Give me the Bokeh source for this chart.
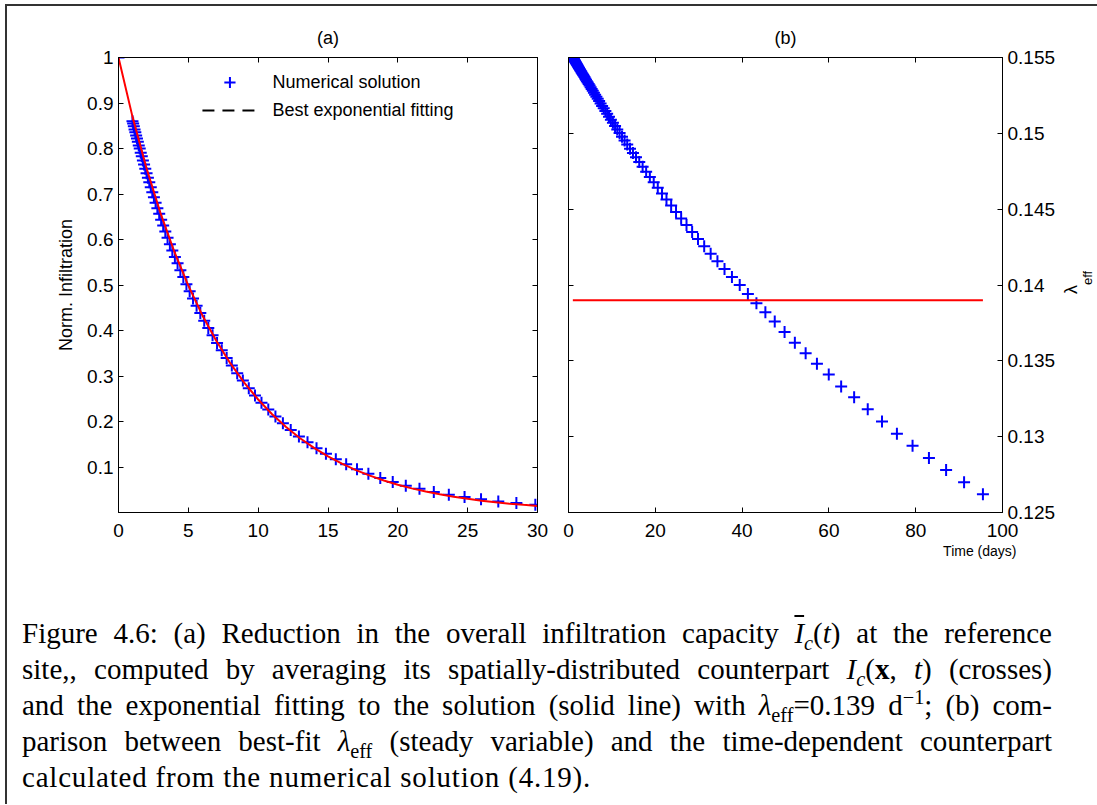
import math
from bokeh.plotting import figure
from bokeh.layouts import row, column
from bokeh.models import (LinearAxis, FixedTicker, CustomJSTickFormatter, Legend,
                          LegendItem, Title, Div, Range1d)
from bokeh.embed import file_html
from bokeh.resources import INLINE

# ---------------- data ----------------
time_days = [1.000, 1.048, 1.098, 1.150, 1.205, 1.262, 1.322, 1.385, 1.451, 1.520,
             1.592, 1.668, 1.748, 1.831, 1.918, 2.009, 2.105, 2.205, 2.310, 2.420,
             2.536, 2.656, 2.783, 2.915, 3.054, 3.200, 3.352, 3.512, 3.679, 3.854,
             4.037, 4.230, 4.431, 4.642, 4.863, 5.095, 5.337, 5.592, 5.858, 6.137,
             6.429, 6.735, 7.056, 7.392, 7.744, 8.113, 8.499, 8.904, 9.328, 9.772,
             10.237, 10.725, 11.236, 11.771, 12.331, 12.918, 13.533, 14.178, 14.853, 15.560,
             16.301, 17.077, 17.891, 18.743, 19.635, 20.570, 21.550, 22.576, 23.651, 24.777,
             25.957, 27.193, 28.488, 29.845, 31.266, 32.755, 34.315, 35.949, 37.661, 39.454,
             41.333, 43.301, 45.363, 47.523, 49.786, 52.157, 54.641, 57.243, 59.968, 62.824,
             65.815, 68.949, 72.232, 75.672, 79.275, 83.050, 87.005, 91.148, 95.488]

lambda_eff = [0.15500, 0.15498, 0.15495, 0.15493, 0.15490, 0.15487, 0.15484, 0.15481, 0.15478, 0.15475,
              0.15471, 0.15467, 0.15464, 0.15459, 0.15455, 0.15451, 0.15446, 0.15441, 0.15436, 0.15431,
              0.15425, 0.15420, 0.15413, 0.15407, 0.15400, 0.15393, 0.15386, 0.15379, 0.15371, 0.15362,
              0.15354, 0.15344, 0.15335, 0.15325, 0.15315, 0.15304, 0.15292, 0.15280, 0.15268, 0.15255,
              0.15242, 0.15228, 0.15213, 0.15197, 0.15181, 0.15165, 0.15147, 0.15129, 0.15110, 0.15090,
              0.15070, 0.15048, 0.15026, 0.15002, 0.14978, 0.14953, 0.14927, 0.14899, 0.14871, 0.14842,
              0.14811, 0.14779, 0.14747, 0.14712, 0.14677, 0.14641, 0.14603, 0.14564, 0.14524, 0.14482,
              0.14439, 0.14395, 0.14350, 0.14303, 0.14255, 0.14206, 0.14156, 0.14105, 0.14053, 0.1400,
              0.1394, 0.1388, 0.1382, 0.1376, 0.1369, 0.1362, 0.1355, 0.1348, 0.1341, 0.1333,
              0.1326, 0.1318, 0.1310, 0.1302, 0.1294, 0.1286, 0.1278, 0.1270, 0.1262]

lambda_best = 0.139

# panel (a): numerical solution (initial value at t = 0, then the same times up to 30 days)
time_start = 0.0
n_points_a = 74
infiltration_num = [1.000, 0.860, 0.855, 0.849, 0.842, 0.836, 0.829, 0.822, 0.815, 0.807, 0.800,
                    0.791, 0.783, 0.774, 0.765, 0.756, 0.746, 0.736, 0.726, 0.715, 0.704,
                    0.693, 0.681, 0.669, 0.657, 0.644, 0.631, 0.618, 0.604, 0.590, 0.576,
                    0.562, 0.548, 0.533, 0.518, 0.502, 0.487, 0.471, 0.455, 0.439, 0.422,
                    0.406, 0.390, 0.373, 0.357, 0.340, 0.324, 0.307, 0.291, 0.274, 0.258,
                    0.242, 0.227, 0.212, 0.197, 0.182, 0.168, 0.155, 0.142, 0.130, 0.118,
                    0.107, 0.096, 0.086, 0.077, 0.068, 0.060, 0.053, 0.046, 0.040, 0.035,
                    0.030, 0.025, 0.022, 0.018]

# panel (a): best exponential fitting (red curve)
time_fit = [0, 1, 2, 3, 4, 5, 6, 7, 8, 9, 10, 11, 12, 13, 14, 15, 16, 17, 18, 19, 20,
            21, 22, 23, 24, 25, 26, 27, 28, 29, 30]
infiltration_fit = [1.0, 0.8702, 0.7573, 0.6590, 0.5735, 0.4991, 0.4343, 0.3779, 0.3289, 0.2862,
                    0.2491, 0.2167, 0.1886, 0.1641, 0.1428, 0.1243, 0.1082, 0.0941, 0.0819, 0.0713,
                    0.0620, 0.0540, 0.0470, 0.0409, 0.0356, 0.0310, 0.0269, 0.0234, 0.0204, 0.0178,
                    0.0155]

xticks_a = [0, 5, 10, 15, 20, 25, 30]
yticks_a = [0.1, 0.2, 0.3, 0.4, 0.5, 0.6, 0.7, 0.8, 0.9, 1.0]
xticks_b = [0, 20, 40, 60, 80, 100]
yticks_b = [0.125, 0.13, 0.135, 0.14, 0.145, 0.15, 0.155]

legend_labels = ["Numerical solution", "Best exponential fitting"]

# ---------------- styling helpers ----------------
FONT = "Liberation Sans"
BLUE = "#0000ff"
RED = "#ff0000"
NUM_FMT = "return String(Number(tick.toFixed(4)));"
TICK_FONT = "19px"


def make_axis(ticks, labels=True, standoff=5):
    ax = LinearAxis(ticker=FixedTicker(ticks=ticks))
    ax.major_tick_in = 5
    ax.major_tick_out = 0
    ax.minor_tick_line_color = None
    ax.axis_line_color = "black"
    ax.major_tick_line_color = "black"
    ax.major_label_text_font = FONT
    ax.major_label_text_color = "black"
    ax.axis_label_text_font = FONT
    ax.axis_label_text_font_style = "normal"
    ax.axis_label_text_color = "black"
    if labels:
        ax.formatter = CustomJSTickFormatter(code=NUM_FMT)
        ax.major_label_text_font_size = TICK_FONT
        ax.major_label_standoff = standoff
    else:
        ax.formatter = CustomJSTickFormatter(code="return '';")
        ax.major_label_text_font_size = "0px"
        ax.major_label_standoff = 0
    return ax


def base_figure(width, title, xr, yr, mbl, mbr):
    p = figure(width=width, height=575, x_range=xr, y_range=yr,
               output_backend="svg", toolbar_location=None,
               x_axis_type=None, y_axis_type=None, title=title,
               min_border_left=mbl, min_border_right=mbr,
               min_border_top=51, min_border_bottom=69)
    p.outline_line_color = "black"
    p.outline_line_width = 1
    p.background_fill_color = "white"
    p.border_fill_color = "white"
    p.title.align = "center"
    p.title.text_font = FONT
    p.title.text_font_size = "18px"
    p.title.text_font_style = "normal"
    p.title.text_color = "black"
    p.title.standoff = 19
    return p


# ---------------- panel (a) ----------------
pa = base_figure(546, "(a)", Range1d(0, 30), Range1d(0.001, 1.0), 111, 16)
ax_bottom = make_axis(xticks_a, True, 11)
ax_left = make_axis(yticks_a, True, 5)
ax_left.axis_label = "Norm. Infiltration"
ax_left.axis_label_text_font_size = "18px"
ax_left.axis_label_standoff = 8
pa.add_layout(ax_bottom, "below")
pa.add_layout(ax_left, "left")
pa.add_layout(make_axis(xticks_a, False), "above")
pa.add_layout(make_axis(yticks_a, False), "right")

t_num_a = [time_start] + time_days[:n_points_a]
r_num = pa.scatter(t_num_a, infiltration_num, marker="cross", size=12,
                   line_color=BLUE, line_width=2)
r_fit = pa.line(time_fit, infiltration_fit, line_color=RED, line_width=2)
# legend-only renderer (the legend of the original shows a black dashed line)
r_dash = pa.line([time_start], [float("nan")], line_color="black", line_width=2, line_dash="12 8")

legend = Legend(items=[LegendItem(label=legend_labels[0], renderers=[r_num]),
                       LegendItem(label=legend_labels[1], renderers=[r_dash])],
                location="top_center", border_line_color=None, background_fill_alpha=0,
                label_text_font=FONT, label_text_font_size="18px", label_text_color="black",
                glyph_width=55, glyph_height=28, label_height=28, spacing=-2,
                padding=5, margin=11, label_standoff=16)
pa.add_layout(legend)

# ---------------- panel (b) ----------------
pb = base_figure(505, "(b)", Range1d(0, 100), Range1d(0.125, 0.155), 15, 55)
pb.add_layout(make_axis(xticks_b, True, 11), "below")
pb.add_layout(make_axis(yticks_b, False), "left")
pb.add_layout(make_axis(xticks_b, False), "above")
pb.add_layout(make_axis(yticks_b, True, 5), "right")

r_lam = pb.scatter(time_days, lambda_eff, marker="cross", size=12,
                   line_color=BLUE, line_width=2)
r_best = pb.line([time_days[0], time_days[-1]], [lambda_best, lambda_best],
                 line_color=RED, line_width=2)

xlabel_b = Title(text="Time (days)", align="right", text_font=FONT, text_font_size="14px",
                 text_font_style="normal", text_color="black", offset=-14, standoff=2)
pb.add_layout(xlabel_b, "below")

# ---------------- y-label of panel (b): λ with subscript "eff" ----------------
pc = figure(width=39, height=575, x_range=Range1d(0, 1), y_range=pb.y_range,
            output_backend="svg", toolbar_location=None, x_axis_type=None, y_axis_type=None,
            min_border_left=18, min_border_right=20, min_border_top=51, min_border_bottom=69)
pc.outline_line_color = None
pc.background_fill_color = "white"
pc.border_fill_color = "white"


def label_axis(text, size, standoff):
    ax = make_axis(yticks_b, False)
    ax.axis_line_color = None
    ax.major_tick_line_color = None
    ax.axis_label = text
    ax.axis_label_text_font_size = size
    ax.axis_label_orientation = math.pi / 2
    ax.axis_label_standoff = standoff
    return ax


pc.add_layout(label_axis("λ", "18px", 7), "left")
pc.add_layout(label_axis("eff", "13px", -1), "right")

# ---------------- caption ----------------
SUB = '<sub style="font-size:0.7em;line-height:0;">'
SUP = '<sup style="font-size:0.7em;line-height:0;">'
J = '<div style="text-align:justify;text-align-last:justify;white-space:nowrap;">'
lines = [
    'Figure 4.6: (a) Reduction in the overall infiltration capacity '
    '<span style="text-decoration:overline;"><i>I</i></span>' + SUB + '<i>c</i></sub>(<i>t</i>) at the reference',
    'site,, computed by averaging its spatially-distributed counterpart '
    '<i>I</i>' + SUB + '<i>c</i></sub>(<b>x</b>, <i>t</i>) (crosses)',
    'and the exponential fitting to the solution (solid line) with '
    '<i>λ</i>' + SUB + 'eff</sub>=0.139 d' + SUP + '−1</sup>; (b) com-',
    'parison between best-fit <i>λ</i>' + SUB + 'eff</sub> (steady variable) and the time-dependent counterpart',
]
last_line = 'calculated from the numerical solution (4.19).'
caption_html = ('<div style="font-family:\'Liberation Serif\';font-size:29px;line-height:36px;'
                'color:#000;padding:34px 15px 0 15px;width:1060px;">'
                + "".join(J + ln + '</div>' for ln in lines)
                + '<div style="text-align:left;letter-spacing:0.8px;">' + last_line + '</div></div>')
cap = Div(text=caption_html, width=1090, height=223, margin=0)

root = column(row(pa, pb, pc), cap, margin=(4, 0, 0, 5),
              styles={"border-top": "2px solid #333333", "border-left": "2px solid #333333"})

with open("out.html", "w") as f:
    f.write(file_html(root, INLINE))
